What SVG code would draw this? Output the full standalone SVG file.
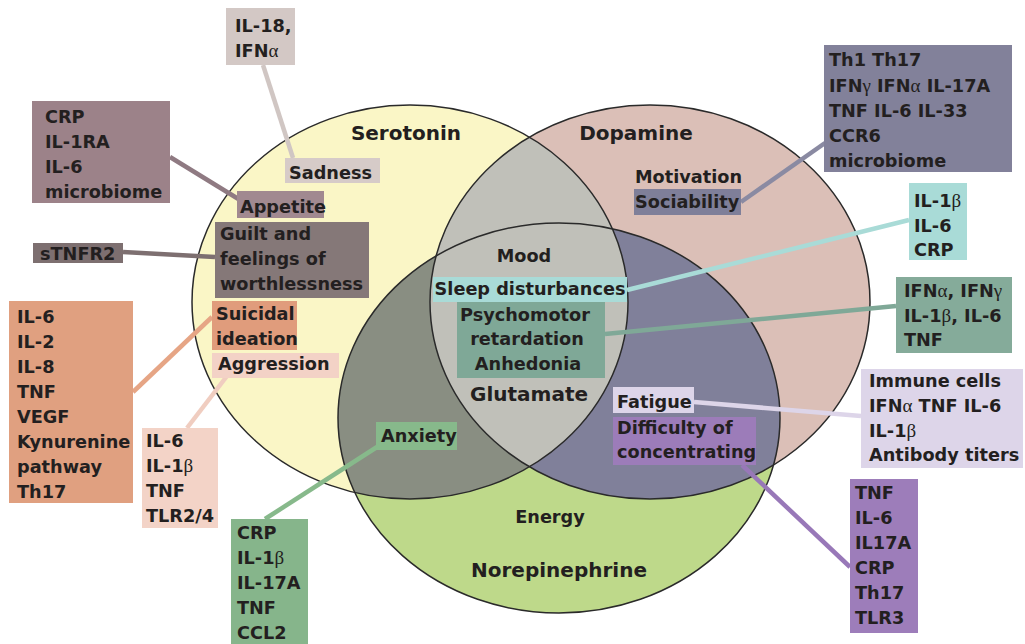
<svg xmlns="http://www.w3.org/2000/svg" width="1025" height="644" viewBox="0 0 1025 644">
<style>
.t{font-family:"DejaVu Sans","Liberation Sans",sans-serif;font-weight:bold;font-size:17.7px;fill:#231f20}
.h{font-size:20px}
.m{text-anchor:middle}
.g{font-family:"Liberation Serif",serif;font-weight:normal;font-size:19px}
.c{fill:none;stroke-width:4.5;stroke-linecap:butt}
.o{fill:none;stroke:#2a2a2a;stroke-width:1.5}
</style>
<defs>
<clipPath id="cy"><ellipse cx="410" cy="302" rx="218" ry="197"/></clipPath>
<clipPath id="cp"><ellipse cx="650" cy="302" rx="220" ry="197"/></clipPath>
<clipPath id="cg"><ellipse cx="559" cy="418" rx="221" ry="195"/></clipPath>
</defs>
<rect width="1025" height="644" fill="#ffffff"/>
<g id="venn">
<ellipse cx="410" cy="302" rx="218" ry="197" fill="#faf6c6"/>
<ellipse cx="650" cy="302" rx="220" ry="197" fill="#dbbfb7"/>
<ellipse cx="559" cy="418" rx="221" ry="195" fill="#bed98a"/>
<g clip-path="url(#cg)">
<ellipse cx="410" cy="302" rx="218" ry="197" fill="#898e82"/>
<ellipse cx="650" cy="302" rx="220" ry="197" fill="#80809a"/>
</g>
<g clip-path="url(#cy)">
<ellipse cx="650" cy="302" rx="220" ry="197" fill="#c0c0b9"/>
</g>
<ellipse class="o" cx="410" cy="302" rx="218" ry="197"/>
<ellipse class="o" cx="650" cy="302" rx="220" ry="197"/>
<ellipse class="o" cx="559" cy="418" rx="221" ry="195"/>
<text class="t h m" x="406" y="140">Serotonin</text>
<text class="t h m" x="636" y="140">Dopamine</text>
<text class="t m" x="524" y="262">Mood</text>
<text class="t h m" x="529" y="401">Glutamate</text>
<text class="t m" x="550" y="523">Energy</text>
<text class="t h m" x="559" y="577">Norepinephrine</text>
<text class="t" x="635" y="183">Motivation</text>
</g>
<g id="connectors">
<line class="c" x1="263" y1="65" x2="293" y2="158" stroke="#d0c6c3"/>
<line class="c" x1="170" y1="157" x2="240" y2="200" stroke="#8f7a82"/>
<line class="c" x1="123" y1="252" x2="215" y2="257" stroke="#7d6f70"/>
<line class="c" x1="133" y1="392" x2="212" y2="317" stroke="#e6a585"/>
<line class="c" x1="227" y1="376" x2="187" y2="428" stroke="#f0cdc0"/>
<line class="c" x1="377" y1="447" x2="265" y2="519" stroke="#87b98b"/>
<line class="c" x1="627" y1="290" x2="909" y2="220" stroke="#a9dbd7"/>
<line class="c" x1="605" y1="334" x2="896" y2="306" stroke="#7fa897"/>
<line class="c" x1="741" y1="202" x2="825" y2="143" stroke="#8a8aa2"/>
<line class="c" x1="694" y1="402" x2="861" y2="416" stroke="#ddd5e9" stroke-width="5"/>
<line class="c" x1="742" y1="465" x2="850" y2="567" stroke="#9878b8"/>
</g>
<g id="n-il18"><rect x="226" y="8" width="69" height="57" fill="#d3c8c5"/>
<text class="t"><tspan x="235" y="32">IL-18,</tspan><tspan x="235" y="57">IFN<tspan class="g">α</tspan></tspan></text></g>
<g id="n-sadness"><rect x="285" y="158" width="95" height="25" fill="#d6cbc8"/>
<text class="t" x="289" y="179">Sadness</text></g>
<g id="n-crp1"><rect x="32" y="101" width="138" height="102" fill="#9c8289"/>
<text class="t"><tspan x="45" y="123">CRP</tspan><tspan x="45" y="148">IL-1RA</tspan><tspan x="45" y="173">IL-6</tspan><tspan x="45" y="198">microbiome</tspan></text></g>
<g id="n-appetite"><rect x="237" y="191" width="87" height="27" fill="#a18990"/>
<text class="t" x="240" y="213">Appetite</text></g>
<g id="n-guilt"><rect x="215" y="222" width="154" height="76" fill="#857878"/>
<text class="t"><tspan x="220" y="240">Guilt and</tspan><tspan x="220" y="265">feelings of</tspan><tspan x="220" y="290">worthlessness</tspan></text></g>
<g id="n-stnfr2"><rect x="33" y="243" width="90" height="20" fill="#7d6f70"/>
<text class="t" x="40" y="260">sTNFR2</text></g>
<g id="n-orange"><rect x="9" y="301" width="124" height="202" fill="#e0a080"/>
<text class="t"><tspan x="17" y="323">IL-6</tspan><tspan x="17" y="348">IL-2</tspan><tspan x="17" y="373">IL-8</tspan><tspan x="17" y="398">TNF</tspan><tspan x="17" y="423">VEGF</tspan><tspan x="17" y="448">Kynurenine</tspan><tspan x="17" y="473">pathway</tspan><tspan x="17" y="498">Th17</tspan></text></g>
<g id="n-suicidal"><rect x="212" y="301" width="85" height="49" fill="#e09c7c"/>
<text class="t"><tspan x="216" y="320">Suicidal</tspan><tspan x="216" y="345">ideation</tspan></text></g>
<g id="n-aggression"><rect x="212" y="353" width="127" height="25" fill="#f3d2c6"/>
<text class="t" x="218" y="370">Aggression</text></g>
<g id="n-il6b"><rect x="142" y="428" width="76" height="100" fill="#f3d3c7"/>
<text class="t"><tspan x="146" y="447">IL-6</tspan><tspan x="146" y="472">IL-1<tspan class="g">β</tspan></tspan><tspan x="146" y="497">TNF</tspan><tspan x="146" y="522">TLR2/4</tspan></text></g>
<g id="n-anxiety"><rect x="376" y="422" width="81" height="28" fill="#87b98b"/>
<text class="t" x="381" y="442">Anxiety</text></g>
<g id="n-crp2"><rect x="231" y="519" width="77" height="130" fill="#86b58b"/>
<text class="t"><tspan x="237" y="539">CRP</tspan><tspan x="237" y="564">IL-1<tspan class="g">β</tspan></tspan><tspan x="237" y="589">IL-17A</tspan><tspan x="237" y="614">TNF</tspan><tspan x="237" y="639">CCL2</tspan></text></g>
<g id="n-sleep"><rect x="433" y="277" width="194" height="25" fill="#a9dbd7"/>
<text class="t m" x="530" y="295">Sleep disturbances</text></g>
<g id="n-psycho"><rect x="457" y="302" width="148" height="76" fill="#7fa897"/>
<text class="t m"><tspan x="525" y="321">Psychomotor</tspan><tspan x="527" y="345">retardation</tspan><tspan x="528" y="370">Anhedonia</tspan></text></g>
<g id="n-sociability"><rect x="634" y="189" width="107" height="26" fill="#7f7f99"/>
<text class="t" x="635" y="208">Sociability</text></g>
<g id="n-th1"><rect x="824" y="45" width="188" height="127" fill="#82819a"/>
<text class="t"><tspan x="829" y="66">Th1 Th17</tspan><tspan x="829" y="92">IFN<tspan class="g">γ</tspan> IFN<tspan class="g">α</tspan> IL-17A</tspan><tspan x="829" y="117">TNF IL-6 IL-33</tspan><tspan x="829" y="142">CCR6</tspan><tspan x="829" y="167">microbiome</tspan></text></g>
<g id="n-il1b"><rect x="909" y="183" width="58" height="77" fill="#a9dbd7"/>
<text class="t"><tspan x="914" y="207">IL-1<tspan class="g">β</tspan></tspan><tspan x="914" y="232">IL-6</tspan><tspan x="914" y="256">CRP</tspan></text></g>
<g id="n-ifna"><rect x="896" y="277" width="116" height="76" fill="#85ab9a"/>
<text class="t"><tspan x="904" y="297">IFN<tspan class="g">α</tspan>, IFN<tspan class="g">γ</tspan></tspan><tspan x="904" y="322">IL-1<tspan class="g">β</tspan>, IL-6</tspan><tspan x="904" y="346">TNF</tspan></text></g>
<g id="n-fatigue"><rect x="613" y="387" width="81" height="26" fill="#ddd5e9"/>
<text class="t" x="617" y="408">Fatigue</text></g>
<g id="n-immune"><rect x="861" y="369" width="162" height="99" fill="#ddd5e9"/>
<text class="t"><tspan x="869" y="387">Immune cells</tspan><tspan x="869" y="412">IFN<tspan class="g">α</tspan> TNF IL-6</tspan><tspan x="869" y="437">IL-1<tspan class="g">β</tspan></tspan><tspan x="869" y="461">Antibody titers</tspan></text></g>
<g id="n-difficulty"><rect x="613" y="417" width="143" height="48" fill="#9c7cb9"/>
<text class="t"><tspan x="617" y="434">Difficulty of</tspan><tspan x="617" y="458">concentrating</tspan></text></g>
<g id="n-tnf"><rect x="850" y="479" width="68" height="154" fill="#9d7dba"/>
<text class="t"><tspan x="855" y="499">TNF</tspan><tspan x="855" y="524">IL-6</tspan><tspan x="855" y="549">IL17A</tspan><tspan x="855" y="574">CRP</tspan><tspan x="855" y="599">Th17</tspan><tspan x="855" y="624">TLR3</tspan></text></g>
</svg>
